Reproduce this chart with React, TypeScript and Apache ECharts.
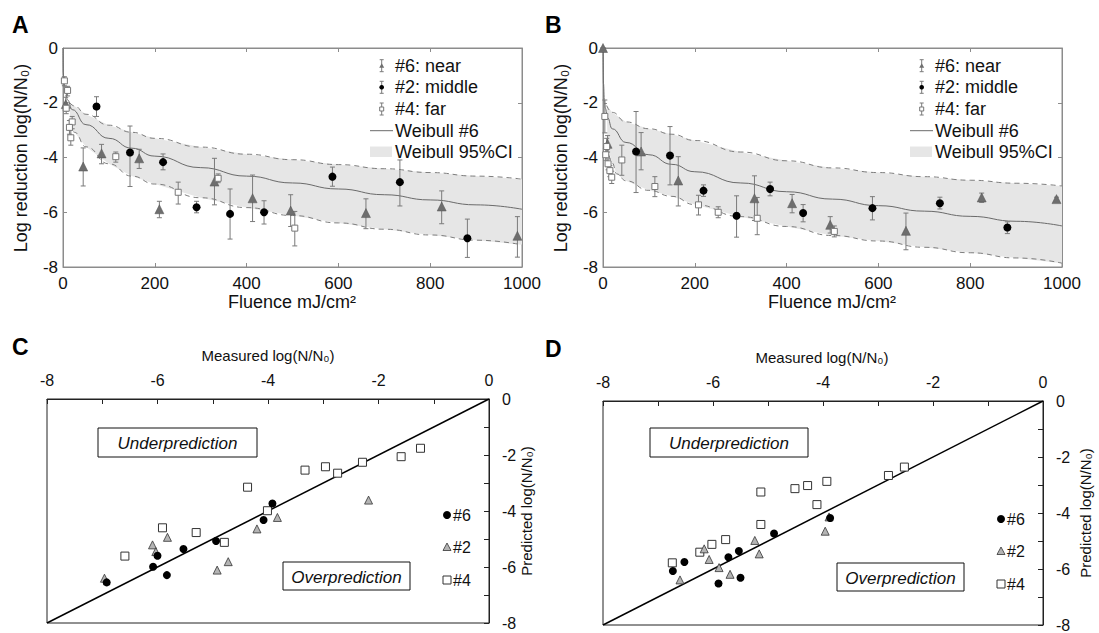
import React, { useEffect, useRef } from "react";
import * as echarts from "echarts";

const FONT = "'Liberation Sans', Arial, Helvetica, sans-serif";

// ---------- Panel A: [fluence, log reduction, bar top, bar bottom] ----------
const nearA = [
  [6, -2.05, -1.8, -2.3], [44, -4.33, -3.65, -5.04], [84, -3.85, -3.52, -4.23],
  [166, -4.03, -3.7, -4.4], [210, -5.89, -5.6, -6.2], [330, -4.88, -4.03, -5.73],
  [413, -5.49, -4.64, -6.34], [496, -5.94, -5.36, -6.52], [660, -6.03, -5.51, -6.6],
  [825, -5.79, -5.22, -6.42], [990, -6.86, -6.16, -7.64],
];
const middleA = [
  [73, -2.14, -1.78, -2.5], [146, -3.82, -2.85, -5.06], [218, -4.17, -3.87, -4.45],
  [291, -5.82, -5.6, -6.02], [364, -6.06, -5.15, -6.98], [438, -6.0, -5.58, -6.43],
  [587, -4.7, -4.35, -5.05], [734, -4.9, -4.09, -5.77], [881, -6.95, -6.25, -7.65],
];
const farA = [
  [3, -1.2, -1.05, -1.38], [10, -1.55, -1.4, -1.75], [7, -2.2, -2.0, -2.4],
  [20, -2.7, -2.5, -2.95], [14, -2.9, -2.65, -3.15], [17, -3.28, -3.0, -3.55],
  [115, -3.97, -3.8, -4.17], [251, -5.27, -4.9, -5.7], [338, -4.76, -4.6, -4.92],
  [505, -6.58, -5.97, -7.23],
];
const weibullA = [
  [0, 0], [0.5, -0.9], [1, -1.0], [3, -1.35], [5, -1.55], [10, -1.9], [20, -2.25], [50, -2.8],
  [100, -3.3], [150, -3.66], [200, -3.95], [300, -4.37], [400, -4.68], [500, -4.93],
  [600, -5.15], [700, -5.36], [800, -5.55], [900, -5.73], [1000, -5.89],
];
const ciUpperA = [
  [15, -2.0], [25, -2.12], [50, -2.42], [100, -2.82], [150, -3.08], [200, -3.3],
  [300, -3.62], [400, -3.88], [500, -4.08], [600, -4.26], [700, -4.41], [800, -4.55],
  [900, -4.68], [1000, -4.79],
];
const ciLowerA = [
  [15, -2.74], [25, -3.08], [50, -3.61], [100, -4.23], [150, -4.68], [200, -4.97],
  [300, -5.47], [400, -5.83], [500, -6.12], [600, -6.39], [700, -6.62], [800, -6.83],
  [900, -7.02], [1000, -7.19],
];

// ---------- Panel B ----------
const nearB = [
  [0, 0, 0, 0], [10, -3.5, -3.2, -3.8], [83, -3.78, -3.09, -4.45], [164, -4.84, -3.97, -5.77],
  [330, -5.49, -4.67, -6.3], [412, -5.67, -5.35, -6.02], [495, -6.46, -6.16, -6.76],
  [660, -6.68, -6.03, -7.37], [825, -5.46, -5.3, -5.64], [988, -5.52, -5.45, -5.6],
];
const middleB = [
  [72, -3.78, -2.32, -5.28], [146, -3.93, -2.87, -5.0], [219, -5.21, -5.0, -5.42],
  [291, -6.13, -5.4, -6.91], [364, -5.15, -4.9, -5.4], [436, -6.03, -5.72, -6.35],
  [587, -5.85, -5.43, -6.28], [734, -5.67, -5.45, -5.88], [881, -6.56, -6.35, -6.78],
];
const farB = [
  [4, -2.5, -1.9, -3.1], [8, -3.6, -3.3, -3.9], [6, -3.9, -3.7, -4.1], [11, -4.23, -4.05, -4.45],
  [15, -4.48, -4.3, -4.7], [19, -4.72, -4.5, -4.95], [41, -4.09, -3.55, -4.65],
  [113, -5.06, -4.7, -5.43], [208, -5.73, -5.38, -6.1], [251, -6.0, -5.8, -6.2],
  [336, -6.22, -5.46, -6.82], [504, -6.7, -6.5, -6.9],
];
const weibullB = [
  [0, 0], [1, -1.3], [3, -1.9], [5, -2.2], [10, -2.55], [20, -2.95], [50, -3.45],
  [100, -3.9], [150, -4.25], [200, -4.52], [300, -4.93], [400, -5.25], [500, -5.52],
  [600, -5.76], [700, -5.96], [800, -6.15], [900, -6.33], [1000, -6.5],
];
const ciUpperB = [
  [8, -2.1], [20, -2.35], [50, -2.7], [100, -2.95], [150, -3.15], [200, -3.38],
  [300, -3.8], [400, -4.12], [500, -4.38], [600, -4.55], [700, -4.7], [800, -4.83],
  [900, -4.94], [1000, -5.04],
];
const ciLowerB = [
  [10, -3.6], [20, -4.2], [30, -4.6], [50, -4.85], [100, -5.2], [150, -5.42], [200, -5.72],
  [300, -6.16], [400, -6.52], [500, -6.85], [600, -7.05], [700, -7.28], [800, -7.48],
  [900, -7.67], [1000, -7.86],
];

// ---------- Panel C: [measured, predicted] ----------
const c6 = [
  [-6.92, -6.55], [-6.08, -5.99], [-6.0, -5.6], [-5.83, -6.29], [-5.53, -5.36],
  [-4.94, -5.07], [-4.08, -4.32], [-3.92, -3.73],
];
const c2 = [
  [-6.96, -6.4], [-6.09, -5.21], [-6.03, -5.45], [-5.82, -4.94], [-4.92, -6.11],
  [-4.72, -5.81], [-4.2, -4.64], [-3.83, -4.23], [-2.18, -3.61],
];
const c4 = [
  [-6.59, -5.61], [-5.91, -4.6], [-5.3, -4.77], [-4.79, -5.12], [-4.37, -3.15],
  [-4.01, -3.99], [-3.33, -2.54], [-2.96, -2.42], [-2.74, -2.65], [-2.29, -2.26],
  [-1.59, -2.06], [-1.24, -1.76],
];

// ---------- Panel D ----------
const d6 = [
  [-6.73, -6.07], [-6.52, -5.75], [-5.9, -6.52], [-5.72, -5.58], [-5.53, -5.36],
  [-5.5, -6.31], [-4.89, -4.73], [-3.87, -4.18],
];
const d2 = [
  [-6.6, -6.39], [-6.16, -5.28], [-6.07, -5.66], [-5.89, -5.95], [-5.69, -6.19],
  [-5.24, -4.98], [-5.16, -5.46], [-3.96, -4.65], [-3.89, -4.14],
];
const d4 = [
  [-6.74, -5.78], [-6.24, -5.4], [-6.02, -5.12], [-5.77, -4.95], [-5.13, -4.41],
  [-5.13, -3.25], [-4.51, -3.13], [-4.28, -3.02], [-4.11, -3.7], [-3.93, -2.87],
  [-2.81, -2.66], [-2.52, -2.36],
];
const identityLine = [[-8, -8], [0, 0]];

const legendAB = ["#6: near", "#2: middle", "#4: far", "Weibull #6", "Weibull 95%CI"];
const legendCD = ["#6", "#2", "#4"];

const AXG = "#8c8c8c";
const BAR = "#7a7a7a";
const BAND = "#e6e6e6";

function errRender(params: any, api: any) {
  const x = api.value(0);
  const p1 = api.coord([x, api.value(1)]);
  const p2 = api.coord([x, api.value(2)]);
  const w = 2.5;
  const style = { stroke: BAR, lineWidth: 1 };
  return {
    type: "group",
    children: [
      { type: "line", shape: { x1: p1[0], y1: p1[1], x2: p2[0], y2: p2[1] }, style },
      { type: "line", shape: { x1: p1[0] - w, y1: p1[1], x2: p1[0] + w, y2: p1[1] }, style },
      { type: "line", shape: { x1: p2[0] - w, y1: p2[1], x2: p2[0] + w, y2: p2[1] }, style },
    ],
  };
}

function fluenceSeries(ai: number, near: number[][], middle: number[][], far: number[][],
  fit: number[][], up: number[][], lo: number[][]) {
  const ax = { xAxisIndex: ai, yAxisIndex: ai };
  const bars = (d: number[][]) => ({
    type: "custom", ...ax, z: 3, silent: true,
    encode: { x: 0, y: [1, 2] },
    data: d.map((r) => [r[0], r[2], r[3]]),
    renderItem: errRender,
  });
  return [
    {
      type: "custom", ...ax, z: 1, silent: true, data: [[0, 0]],
      renderItem: (_p: any, api: any) => {
        const pts = up.map((p) => api.coord(p)).concat(lo.slice().reverse().map((p) => api.coord(p)));
        return { type: "polygon", shape: { points: pts }, style: { fill: BAND } };
      },
    },
    { type: "line", ...ax, z: 2, data: up, symbol: "none", smooth: 0.5, smoothMonotone: "x",
      lineStyle: { color: "#7d7d7d", width: 1, type: [5, 4] } },
    { type: "line", ...ax, z: 2, data: lo, symbol: "none", smooth: 0.5, smoothMonotone: "x",
      lineStyle: { color: "#7d7d7d", width: 1, type: [5, 4] } },
    { type: "line", ...ax, z: 2, data: fit, symbol: "none", smooth: 0.5, smoothMonotone: "x",
      lineStyle: { color: "#6a6a6a", width: 1 } },
    bars(near), bars(middle), bars(far),
    { type: "scatter", ...ax, z: 4, symbol: "triangle", symbolSize: 9,
      itemStyle: { color: "#6e6e6e", borderColor: "#555", borderWidth: 0.5, opacity: 1 },
      data: near.map((r) => [r[0], r[1]]) },
    { type: "scatter", ...ax, z: 4, symbol: "circle", symbolSize: 8,
      itemStyle: { color: "#000", opacity: 1 }, data: middle.map((r) => [r[0], r[1]]) },
    { type: "scatter", ...ax, z: 4, symbol: "rect", symbolSize: 6,
      itemStyle: { color: "#fff", borderColor: "#777", borderWidth: 1, opacity: 1 },
      data: far.map((r) => [r[0], r[1]]) },
  ];
}

function compareSeries(ai: number, s6: number[][], s2: number[][], s4: number[][]) {
  const ax = { xAxisIndex: ai, yAxisIndex: ai };
  return [
    { type: "line", ...ax, z: 2, data: identityLine, symbol: "none",
      lineStyle: { color: "#000", width: 1.5 } },
    { type: "scatter", ...ax, z: 4, symbol: "rect", symbolSize: 8,
      itemStyle: { color: "#fff", borderColor: "#333", borderWidth: 1, opacity: 1 }, data: s4 },
    { type: "scatter", ...ax, z: 4, symbol: "triangle", symbolSize: 8,
      itemStyle: { color: "#b4b4b4", borderColor: "#333", borderWidth: 0.8, opacity: 1 }, data: s2 },
    { type: "scatter", ...ax, z: 4, symbol: "circle", symbolSize: 8,
      itemStyle: { color: "#000", opacity: 1 }, data: s6 },
  ];
}

const plainFmt = (v: number) => String(v);
function fluenceX(gi: number, pos: string, labels: boolean) {
  return {
    gridIndex: gi, type: "value", position: pos, min: 0, max: 1000, interval: 200,
    axisLine: { show: true, onZero: false, lineStyle: { color: AXG, width: 1 } },
    axisTick: { show: true, inside: true, length: 4, lineStyle: { color: AXG } },
    axisLabel: { show: labels, fontSize: 17, color: "#111", fontFamily: FONT, margin: 8,
      formatter: plainFmt, showMinLabel: true, showMaxLabel: true },
    splitLine: { show: false },
  };
}
function logY(gi: number, pos: string, labels: boolean) {
  return {
    gridIndex: gi, type: "value", position: pos, min: -8, max: 0, interval: 2,
    axisLine: { show: true, onZero: false, lineStyle: { color: AXG, width: 1 } },
    axisTick: { show: true, inside: true, length: 4, lineStyle: { color: AXG } },
    axisLabel: { show: labels, fontSize: 17, color: "#111", fontFamily: FONT, margin: 5,
      formatter: plainFmt, showMinLabel: true, showMaxLabel: true },
    splitLine: { show: false },
  };
}
const evenFmt = (v: number) => (Math.round(v) % 2 === 0 ? String(v) : "");
function measX(gi: number) {
  return {
    gridIndex: gi, type: "value", position: "top", min: -8, max: 0, interval: 1,
    axisLine: { show: true, onZero: false, lineStyle: { color: "#222", width: 1 } },
    axisTick: { show: true, inside: true, length: 5, lineStyle: { color: "#222" } },
    axisLabel: { fontSize: 16, color: "#111", fontFamily: FONT, margin: 11, formatter: evenFmt,
      showMinLabel: true, showMaxLabel: true },
    splitLine: { show: false },
  };
}
function predY(gi: number) {
  return {
    gridIndex: gi, type: "value", position: "right", min: -8, max: 0, interval: 1,
    axisLine: { show: true, onZero: false, lineStyle: { color: "#222", width: 1 } },
    axisTick: { show: true, inside: true, length: 5, lineStyle: { color: "#222" } },
    axisLabel: { fontSize: 16, color: "#111", fontFamily: FONT, margin: 13, formatter: evenFmt,
      showMinLabel: true, showMaxLabel: true },
    splitLine: { show: false },
  };
}

function txt(x: number, y: number, text: string, size: number, extra: any = {}, rot = 0) {
  return {
    type: "text", x, y, rotation: rot, z: 100, silent: true,
    style: { text, fontSize: size, fontFamily: FONT, fill: "#111", align: "left",
      verticalAlign: "middle", ...extra },
  };
}

function legendABGraphics(ox: number) {
  const ys = [65.7, 87.3, 109, 130.7, 151.7];
  const ix = 381.7 + ox;
  const tx = 395 + ox;
  const s = { stroke: BAR, lineWidth: 1 };
  const out: any[] = [];
  for (let i = 0; i < 3; i++) {
    const y = ys[i];
    out.push({ type: "line", z: 100, shape: { x1: ix, y1: y - 6, x2: ix, y2: y + 6 }, style: s });
    out.push({ type: "line", z: 100, shape: { x1: ix - 2, y1: y - 6, x2: ix + 2, y2: y - 6 }, style: s });
    out.push({ type: "line", z: 100, shape: { x1: ix - 2, y1: y + 6, x2: ix + 2, y2: y + 6 }, style: s });
  }
  out.push({ type: "polygon", z: 101, shape: { points: [[ix - 2.5, ys[0] + 2], [ix + 2.5, ys[0] + 2], [ix, ys[0] - 2.5]] },
    style: { fill: "#6e6e6e" } });
  out.push({ type: "circle", z: 101, shape: { cx: ix, cy: ys[1], r: 2.3 }, style: { fill: "#000" } });
  out.push({ type: "rect", z: 101, shape: { x: ix - 2, y: ys[2] - 2, width: 4, height: 4 },
    style: { fill: "#fff", stroke: "#777", lineWidth: 1 } });
  out.push({ type: "line", z: 100, shape: { x1: 370 + ox, y1: ys[3], x2: 393 + ox, y2: ys[3] },
    style: { stroke: "#6a6a6a", lineWidth: 1 } });
  out.push({ type: "rect", z: 100, shape: { x: 370 + ox, y: 146.5, width: 22, height: 10.5 },
    style: { fill: BAND } });
  legendAB.forEach((t, i) => out.push(txt(tx, ys[i], t, 18)));
  return out;
}

function legendCDGraphics(mx: number, y0: number) {
  const ys = [y0, y0 + 32, y0 + 65];
  return [
    { type: "circle", z: 100, shape: { cx: mx, cy: ys[0], r: 4 }, style: { fill: "#000" } },
    { type: "polygon", z: 100, shape: { points: [[mx - 4, ys[1] + 3.5], [mx + 4, ys[1] + 3.5], [mx, ys[1] - 4]] },
      style: { fill: "#b4b4b4", stroke: "#333", lineWidth: 0.8 } },
    { type: "rect", z: 100, shape: { x: mx - 4, y: ys[2] - 4, width: 8, height: 8 },
      style: { fill: "#fff", stroke: "#333", lineWidth: 1 } },
    ...legendCD.map((t, i) => txt(mx + 6, ys[i], t, 16)),
  ];
}

function boxLabel(x: number, y: number, w: number, h: number, text: string) {
  return [
    { type: "rect", z: 100, shape: { x, y, width: w, height: h },
      style: { fill: "#fff", stroke: "#111", lineWidth: 1 } },
    txt(x + w / 2, y + h / 2 + 1, text, 17, { align: "center", fontStyle: "italic" }),
  ];
}

function buildOption() {
  const title = (x: number, y: number, t: string) =>
    txt(x, y, t, 23, { fontWeight: "bold", fill: "#000" });
  return {
    animation: false,
    backgroundColor: "#fff",
    grid: [
      { left: 63, top: 48, width: 459, height: 219, show: true, borderColor: AXG, borderWidth: 1, backgroundColor: "transparent" },
      { left: 603, top: 48, width: 459, height: 219, show: true, borderColor: AXG, borderWidth: 1, backgroundColor: "transparent" },
      { left: 47, top: 399, width: 442, height: 224, show: true, borderColor: "#222", borderWidth: 1, backgroundColor: "transparent" },
      { left: 603, top: 401, width: 440, height: 225, show: true, borderColor: "#222", borderWidth: 1, backgroundColor: "transparent" },
    ],
    xAxis: [fluenceX(0, "bottom", true), fluenceX(0, "top", false), fluenceX(1, "bottom", true),
      fluenceX(1, "top", false), measX(2), measX(3)],
    yAxis: [logY(0, "left", true), logY(0, "right", false), logY(1, "left", true),
      logY(1, "right", false), predY(2), predY(3)],
    series: [
      ...fluenceSeries(0, nearA, middleA, farA, weibullA, ciUpperA, ciLowerA),
      ...fluenceSeries(2, nearB, middleB, farB, weibullB, ciUpperB, ciLowerB),
      ...compareSeries(4, c6, c2, c4),
      ...compareSeries(5, d6, d2, d4),
    ],
    graphic: [
      title(12, 25, "A"), title(545, 25, "B"), title(12, 347, "C"), title(545, 349, "D"),
      txt(21, 158, "Log reduction log(N/N\u2080)", 18, { align: "center" }, Math.PI / 2),
      txt(561, 158, "Log reduction log(N/N\u2080)", 18, { align: "center" }, Math.PI / 2),
      txt(292, 302, "Fluence mJ/cm\u00b2", 18, { align: "center" }),
      txt(832, 302, "Fluence mJ/cm\u00b2", 18, { align: "center" }),
      txt(268, 355, "Measured log(N/N\u2080)", 15, { align: "center" }),
      txt(822, 357, "Measured log(N/N\u2080)", 15, { align: "center" }),
      txt(526, 511, "Predicted log(N/N\u2080)", 15, { align: "center" }, Math.PI / 2),
      txt(1085, 513, "Predicted log(N/N\u2080)", 15, { align: "center" }, Math.PI / 2),
      ...legendABGraphics(0),
      ...legendABGraphics(540),
      ...legendCDGraphics(447, 515),
      ...legendCDGraphics(1001, 519),
      ...boxLabel(98, 428, 159, 29, "Underprediction"),
      ...boxLabel(283, 562, 127, 28, "Overprediction"),
      ...boxLabel(650, 428, 158, 29, "Underprediction"),
      ...boxLabel(837, 563, 127, 28, "Overprediction"),
    ],
  };
}

export default function App() {
  const ref = useRef<HTMLDivElement>(null);
  useEffect(() => {
    const chart = echarts.init(ref.current!, undefined, { renderer: "svg" });
    chart.setOption(buildOption() as any);
    return () => chart.dispose();
  }, []);
  return (
    <div
      ref={ref}
      style={{ position: "absolute", left: 0, top: 0, width: 1099, height: 633, background: "#fff" }}
    />
  );
}
